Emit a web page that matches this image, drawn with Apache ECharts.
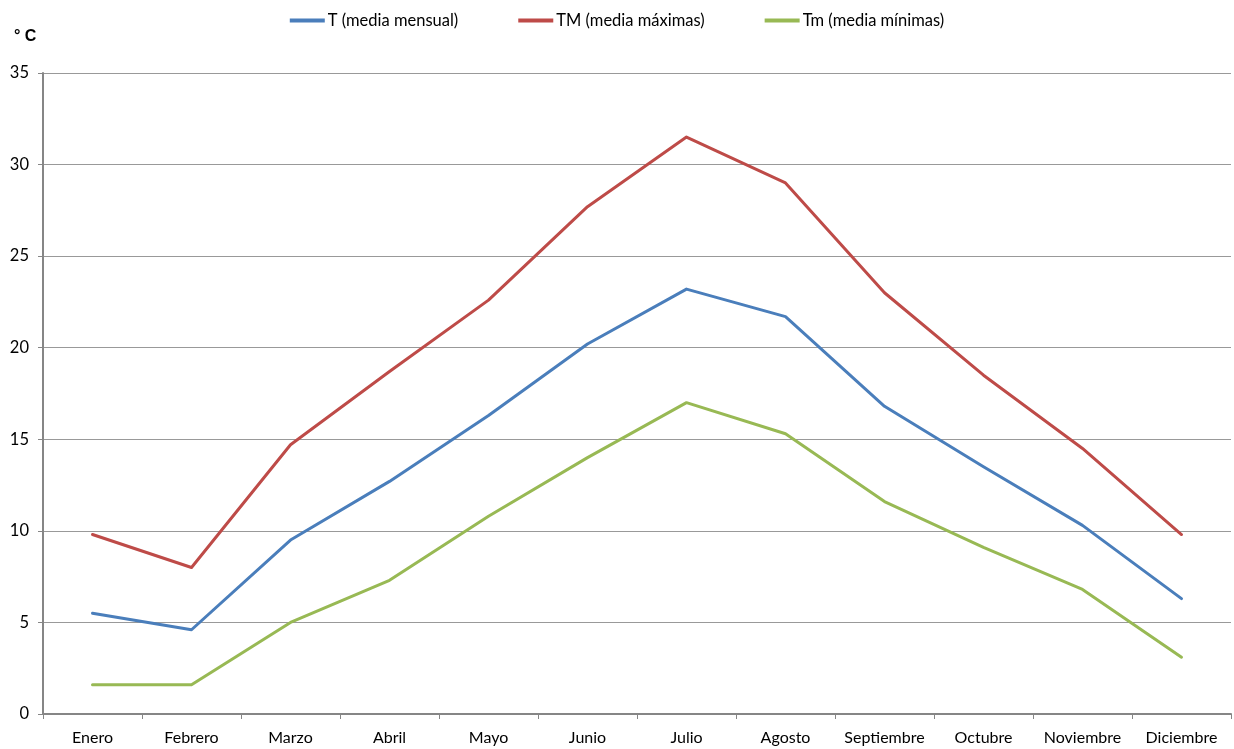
<!DOCTYPE html>
<html>
<head>
<meta charset="utf-8">
<script src="https://cdn.jsdelivr.net/npm/echarts@6/dist/echarts.min.js"></script>
<style>html,body{margin:0;padding:0;background:#fff}#c{width:1234px;height:749px}</style>
</head>
<body>
<div id="c"></div>
<script>
const categories = ['Enero','Febrero','Marzo','Abril','Mayo','Junio','Julio','Agosto','Septiembre','Octubre','Noviembre','Diciembre'];
const seriesNames = ['T (media mensual)','TM (media máximas)','Tm (media mínimas)'];
const tMedia = [5.5, 4.6, 9.5, 12.7, 16.3, 20.2, 23.2, 21.7, 16.8, 13.5, 10.3, 6.3];
const tMax = [9.8, 8.0, 14.7, 18.7, 22.6, 27.7, 31.5, 29.0, 23.0, 18.5, 14.5, 9.8];
const tMin = [1.6, 1.6, 5.0, 7.3, 10.8, 14.0, 17.0, 15.3, 11.6, 9.1, 6.8, 3.1];
const colors = ['#4a7ebb','#be4b48','#98b954'];
const FONT = 'Lato, "Open Sans", sans-serif';

const chart = echarts.init(document.getElementById('c'), null, {renderer:'canvas'});
const mk = (name, data, color) => ({
  name, type:'line', data, symbol:'none', smooth:false,
  lineStyle:{color, width:3, cap:'round', join:'round'}, itemStyle:{color}
});
chart.setOption({
  animation:false,
  textStyle:{fontFamily:FONT},
  legend:{
    top:7, left:'center', itemGap:60, itemWidth:35, itemHeight:4, icon:'rect',
    textStyle:{fontSize:16.5, color:'#000', fontFamily:FONT, padding:[0,0,0,-2]},
    data:seriesNames
  },
  title:{text:'° C', left:9, top:24, textStyle:{fontSize:16, fontWeight:'bold', color:'#000', fontFamily:'"Liberation Sans", Arial, sans-serif'}},
  grid:{left:43, right:3, top:73, bottom:35, containLabel:false},
  xAxis:{
    type:'category', data:categories, boundaryGap:true,
    axisLine:{lineStyle:{color:'#868686', width:2}},
    axisTick:{show:true, alignWithLabel:false, length:5, lineStyle:{color:'#868686'}},
    axisLabel:{color:'#000', fontSize:16, margin:16, interval:0, fontFamily:FONT}
  },
  yAxis:{
    type:'value', min:0, max:35, interval:5,
    axisLine:{show:true, lineStyle:{color:'#868686', width:2}},
    axisTick:{show:true, length:5, lineStyle:{color:'#868686'}},
    axisLabel:{color:'#000', fontSize:16.5, margin:14, fontFamily:FONT},
    splitLine:{lineStyle:{color:'#999', width:1}}
  },
  series:[mk(seriesNames[0], tMedia, colors[0]), mk(seriesNames[1], tMax, colors[1]), mk(seriesNames[2], tMin, colors[2])]
});
</script>
</body>
</html>
